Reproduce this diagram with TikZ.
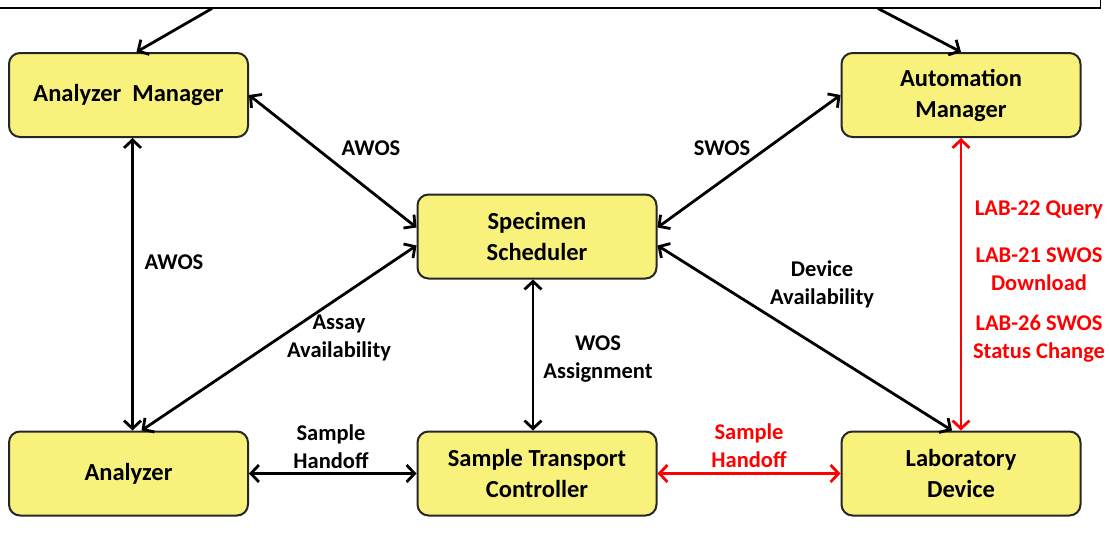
\documentclass[tikz,border=0pt]{standalone}
\usepackage{fontspec}
\setmainfont{Carlito}
\usetikzlibrary{arrows.meta}

\begin{document}
\begin{tikzpicture}[x=1pt,y=-1pt,
	box/.style={draw=black!85,line width=2pt,rounded corners=11pt,fill=boxyellow,minimum width=239pt,minimum height=84pt,align=center,font=\fontsize{24.5}{31}\selectfont\bfseries},
	lbl/.style={align=center,font=\fontsize{22.5}{28}\selectfont\bfseries},
	link/.style={line width=2.8pt,{Straight Barb[length=8pt,width=17pt]}-{Straight Barb[length=8pt,width=17pt]}},
	feed/.style={line width=2.8pt,-{Straight Barb[length=8pt,width=17pt]}}]
	\definecolor{boxyellow}{HTML}{F8F17B}
	\definecolor{linkred}{HTML}{FF0000}
	\useasboundingbox (0,0) rectangle (1109,554);

	\node[draw,line width=1.2pt,anchor=south west,minimum width=1110pt,minimum height=40pt,inner sep=0pt] (sys) at (-10,8.5) {};
	\coordinate (s1) at (212,8.5);
	\coordinate (s2) at (878,8.5);

	\node[box] (am) at (128.5,95) {Analyzer\ \ Manager};
	\node[box] (auto) at (961,95) {Automation\\Manager};
	\node[box] (spec) at (537,236.5) {Specimen\\Scheduler};
	\node[box] (an) at (128.5,473.5) {Analyzer};
	\node[box] (stc) at (537,473.5) {Sample Transport\\Controller};
	\node[box] (lab) at (961,473.5) {Laboratory\\Device};

	\draw[feed] (s1) -- ([xshift=8pt]am.north);
	\draw[feed] (s2) -- (auto.north);
	\draw[link] (am.east) -- ([yshift=9pt]spec.west);
	\draw[link] (auto.west) -- ([yshift=9pt]spec.east);
	\draw[link] ([xshift=4pt]am.south) -- ([xshift=4pt]an.north);
	\draw[link] ([xshift=13pt]an.north) -- ([yshift=-9pt]spec.west);
	\draw[link] ([yshift=-9pt]spec.east) -- ([xshift=-9pt]lab.north);
	\draw[link] ([xshift=-4pt]spec.south) -- ([xshift=-4pt]stc.north);
	\draw[link] (an.east) -- (stc.west);
	\draw[link,linkred] (stc.east) -- (lab.west);
	\draw[link,linkred] (auto.south) -- (lab.north);

	\node[lbl] (awosa) at (371,148) {AWOS};
	\node[lbl] (awosb) at (174,262) {AWOS};
	\node[lbl] (swos) at (722,148) {SWOS};
	\node[lbl] (devav) at (822,284) {Device\\Availability};
	\node[lbl] (assay) at (339,338) {Assay\\Availability};
	\node[lbl] (wos) at (598,359) {WOS\\Assignment};
	\node[lbl] (handa) at (331,447) {Sample\\Handoff};
	\node[lbl,linkred] (handb) at (749,446) {Sample\\Handoff};
	\node[lbl,linkred] (lab22) at (1039,210) {LAB-22 Query};
	\node[lbl,linkred] (lab21) at (1039,269) {LAB-21 SWOS\\Download};
	\node[lbl,linkred] (lab26) at (1039,339) {LAB-26 SWOS\\Status Change};
\end{tikzpicture}
\end{document}
